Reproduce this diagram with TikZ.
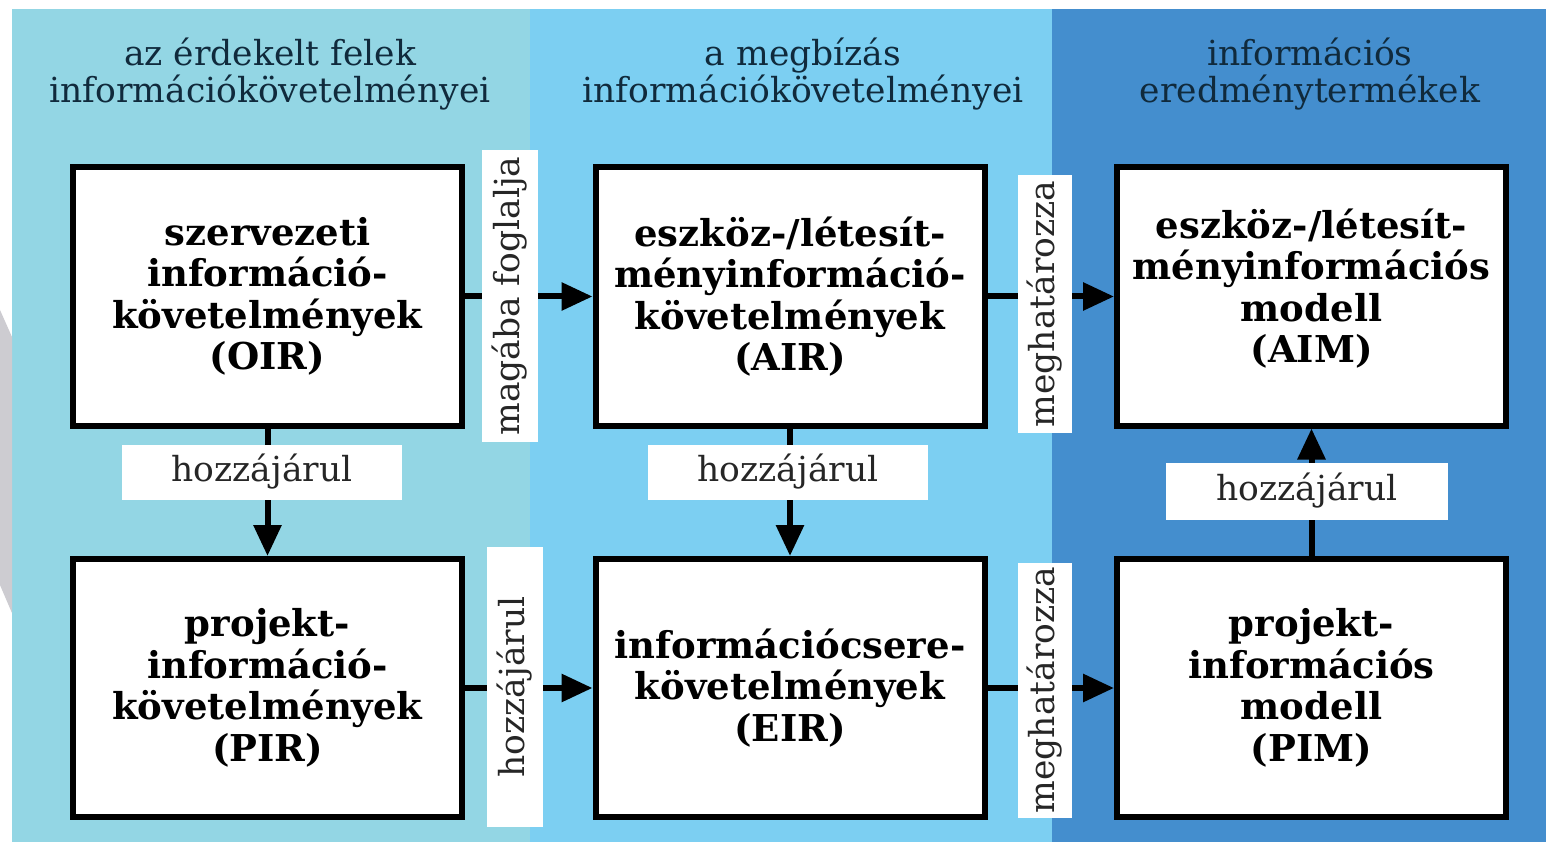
\documentclass[tikz,border=0pt]{standalone}
\usepackage{fontspec}
\setmainfont{DejaVu Serif}
\usetikzlibrary{arrows.meta}
\definecolor{bandA}{HTML}{93D6E4}
\definecolor{bandB}{HTML}{7CCFF2}
\definecolor{bandC}{HTML}{448ECE}
\definecolor{headtext}{HTML}{102A3C}
\definecolor{wedge}{HTML}{CDCCD1}
\begin{document}
\begin{tikzpicture}[x=1pt,y=-1pt,
  boxtext/.style={align=center, inner sep=0pt,
    font=\fontsize{37}{41.5}\selectfont\bfseries},
  reqbox/.style={boxtext, draw=black, line width=6pt, fill=white,
    minimum width=389pt, minimum height=258pt},
  header/.style={align=center, text=headtext, inner sep=0pt,
    font=\fontsize{34.5}{37}\selectfont},
  tag/.style={fill=white, inner sep=0pt, text=black!85,
    font=\fontsize{34.5}{37}\selectfont},
  vtag/.style={tag, rotate=90},
  flow/.style={line width=6pt, -{Triangle[length=31pt,width=27pt]}}]
\useasboundingbox (0,0) rectangle (1548,842);
\fill[white] (0,0) rectangle (1548,842);
% colour bands
\fill[bandA] (12,9) rectangle (530,842);
\fill[bandB] (530,9) rectangle (1052,842);
\fill[bandC] (1052,9) rectangle (1546,842);
\fill[wedge] (0,310) -- (12,337) -- (12,613) -- (0,585) -- cycle;
% column headings
\node[header] (h1) at (270,74) {az érdekelt felek\\információkövetelményei};
\node[header] (h2) at (803,74) {a megbízás\\információkövetelményei};
\node[header] (h3) at (1310,74) {információs\\eredménytermékek};
% requirement boxes
\node[reqbox] (oir) at (267.5,296.5) {szervezeti\\információ-\\követelmények\\(OIR)};
\node[reqbox] (air) at (790,296.5) {eszköz-/létesít-\\ményinformáció-\\követelmények\\(AIR)};
\node[reqbox, label={[boxtext, yshift=8pt]center:{eszköz-/létesít-\\ményinformációs\\modell\\(AIM)}}] (aim) at (1311.5,296.5) {};
\node[reqbox] (pir) at (267.5,688) {projekt-\\információ-\\követelmények\\(PIR)};
\node[reqbox] (eir) at (790,688) {információcsere-\\követelmények\\(EIR)};
\node[reqbox] (pim) at (1311.5,688) {projekt-\\információs\\modell\\(PIM)};
% relations
\draw[flow] (oir.east) -- (air.west);
\draw[flow] (air.east) -- (aim.west);
\draw[flow] (pir.east) -- (eir.west);
\draw[flow] (eir.east) -- (pim.west);
\draw[flow] (oir.south) -- (pir.north);
\draw[flow] (air.south) -- (eir.north);
\draw[flow] (pim.north) -- (aim.south);
% relation labels
\node[vtag, minimum width=292pt, minimum height=56pt] (t1) at (510,296) {magába foglalja};
\node[vtag, minimum width=258pt, minimum height=54pt] (t2) at (1045,304) {meghatározza};
\node[vtag, minimum width=280pt, minimum height=56pt] (t3) at (515,687) {hozzájárul};
\node[vtag, minimum width=255pt, minimum height=54pt] (t4) at (1045,690) {meghatározza};
\node[tag, minimum width=280pt, minimum height=55pt] (t5) at (262,472) {hozzájárul};
\node[tag, minimum width=280pt, minimum height=55pt] (t6) at (788,472) {hozzájárul};
\node[tag, minimum width=282pt, minimum height=57pt] (t7) at (1307,491) {hozzájárul};
\end{tikzpicture}
\end{document}
